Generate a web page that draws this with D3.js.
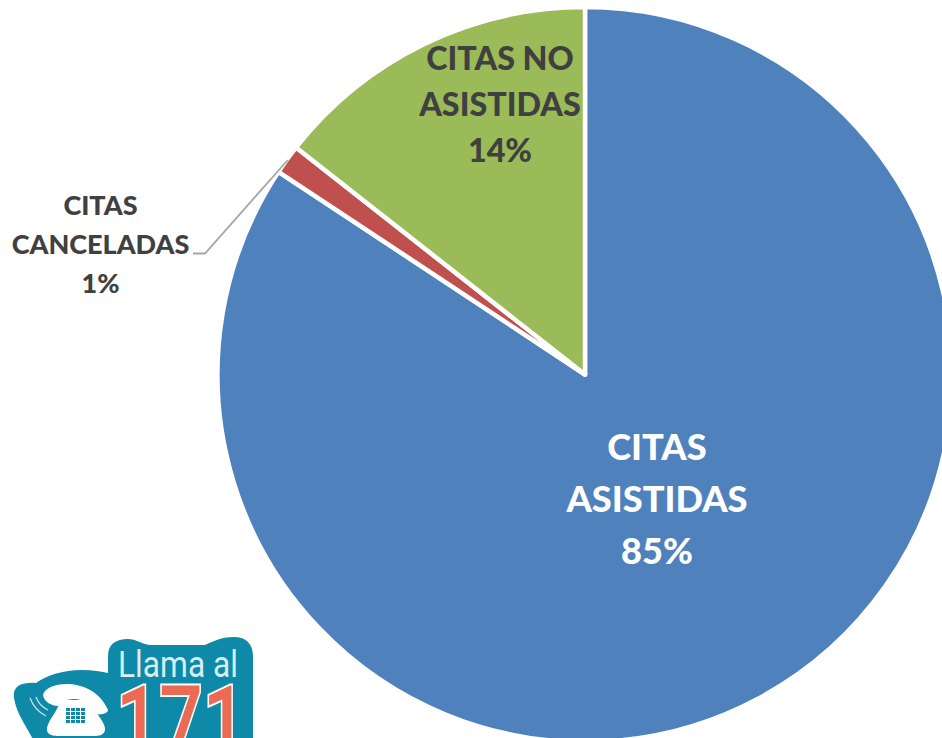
<!DOCTYPE html>
<html>
<head>
<meta charset="utf-8">
<script src="https://d3js.org/d3.v7.min.js"></script>
<style>
  html, body { margin: 0; padding: 0; background: #fff; overflow: hidden; }
</style>
</head>
<body>
<svg id="chart" width="942" height="738"></svg>
<script>
const categories = ["CITAS ASISTIDAS", "CITAS CANCELADAS", "CITAS NO ASISTIDAS"]
const values = [84.3, 1.3, 14.4]
const percentLabels = ["85%", "1%", "14%"]
const sliceColors = ["#4f81bd", "#c0504d", "#9bbb59"]

const width = 942
const height = 738
const cx = 585
const cy = 374.5
const radius = 367.5

const svg = d3.select("#chart")
const font = "Lato, 'Open Sans', sans-serif"

const pie = d3.pie().sort(null)
const arc = d3.arc().innerRadius(0).outerRadius(radius)

const g = svg.append("g").attr("transform", `translate(${cx},${cy})`)

g.selectAll("path.slice")
    .data(pie(values))
    .join("path")
    .attr("class", "slice")
    .attr("d", arc)
    .attr("fill", (d, i) => sliceColors[i])
    .attr("stroke", "#fff")
    .attr("stroke-width", 4.5)
    .attr("stroke-linejoin", "round")

// leader line for the small slice
const small = pie(values)[1]
const mid = (small.startAngle + small.endAngle) / 2
const tip = [Math.sin(mid) * (radius - 1), -Math.cos(mid) * (radius - 1)]
svg.append("path")
    .attr("d", d3.line()([[193, 253.5], [205, 253.5], [cx + tip[0], cy + tip[1]]]))
    .attr("fill", "none")
    .attr("stroke", "#a6a6a6")
    .attr("stroke-width", 1.8)

// label lines, split the way the chart wraps them
const labelLines = [
    ["CITAS", "ASISTIDAS", percentLabels[0]],
    ["CITAS", "CANCELADAS", percentLabels[1]],
    ["CITAS NO", "ASISTIDAS", percentLabels[2]]
]
const labelStyle = [
    {x: 657, y: 445.5, size: 36.2, gap: 52, color: "#fff"},
    {x: 100.5, y: 204, size: 27, gap: 39, color: "#404040"},
    {x: 500, y: 57, size: 32.3, gap: 46, color: "#404040"}
]

labelLines.forEach((lines, i) => {
    const s = labelStyle[i]
    svg.append("text")
        .attr("font-family", font)
        .attr("font-weight", 900)
        .attr("font-size", s.size)
        .attr("fill", s.color)
        .attr("text-anchor", "middle")
        .selectAll("tspan")
        .data(lines)
        .join("tspan")
        .attr("x", s.x)
        .attr("y", (d, j) => s.y + j * s.gap)
        .attr("dominant-baseline", "central")
        .text(d => d)
})

// "Llama al 171" logo in the lower left corner
const teal = "#0e8aa8"
const logo = svg.append("g").attr("class", "logo")
logo.append("path")
    .attr("d", "M108,656 C108,644 116,639 128,639 C136,639 142,644 150,645 L205,645 C212,642 220,637 234,637 C246,637 253,644 253,656 L253,760 L108,760 Z")
    .attr("fill", teal)
logo.append("path")
    .attr("d", "M14,698 C12,686 22,682 36,683 C50,672 80,665 112,674 L122,760 L40,760 C36,735 18,722 14,698 Z")
    .attr("fill", teal)

// handset and phone body
logo.append("path")
    .attr("d", "M43,695 C46,680 94,676 108,710 C108,714 98,716 93,713 C90,704 84,699 74,699 C66,699 62,702 58,706 C52,706 44,702 43,695 Z")
    .attr("fill", "#fff")
logo.append("path")
    .attr("d", "M60,700 L88,700 C94,712 106,722 105,730 C104,735 100,736 92,736 L58,736 C50,736 46,733 47,728 C49,718 58,712 60,700 Z")
    .attr("fill", "#fff")
const keys = d3.cross(d3.range(4), d3.range(4))
logo.selectAll("rect.key")
    .data(keys)
    .join("rect")
    .attr("class", "key")
    .attr("x", d => 66 + d[0] * 5)
    .attr("y", d => 708 + d[1] * 4)
    .attr("width", 4)
    .attr("height", 3)
    .attr("fill", teal)
logo.append("path")
    .attr("d", "M30,698 C33,706 38,712 46,716 M36,697 C38,703 42,707 48,710")
    .attr("fill", "none")
    .attr("stroke", "#cfe6ec")
    .attr("stroke-width", 1.2)

logo.append("text")
    .attr("x", 118).attr("y", 677)
    .attr("font-family", "Roboto, sans-serif")
    .attr("font-size", 37)
    .attr("fill", "#d8eef2")
    .attr("textLength", 120)
    .attr("lengthAdjust", "spacingAndGlyphs")
    .text("Llama al")
logo.append("text")
    .attr("x", 116).attr("y", 757)
    .attr("font-family", "Roboto, sans-serif")
    .attr("font-weight", 500)
    .attr("font-size", 100)
    .attr("fill", "#ea6a53")
    .attr("stroke", "#fff")
    .attr("stroke-width", 4)
    .attr("paint-order", "stroke")
    .attr("textLength", 130)
    .attr("lengthAdjust", "spacingAndGlyphs")
    .text("171")
</script>
</body>
</html>
